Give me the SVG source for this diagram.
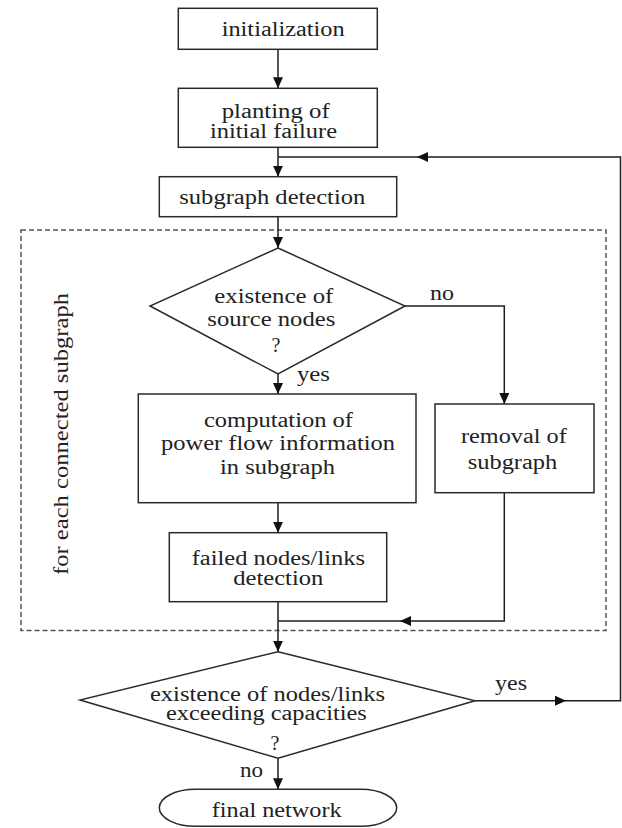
<svg xmlns="http://www.w3.org/2000/svg" width="622" height="828" viewBox="0 0 622 828" font-family="'Liberation Serif', 'Times New Roman', Times, serif">
<style>
.box{fill:#fff;stroke:#2a2a2a;stroke-width:1.5}
.ln{fill:none;stroke:#1e1e1e;stroke-width:1.5}
.dash{fill:none;stroke:#555;stroke-width:1.5;stroke-dasharray:5 3}
text{font-family:'Liberation Serif','Times New Roman',Times,serif;font-size:20px;fill:#222}
.c{text-anchor:middle}
</style>
<defs>
<marker id="ah" markerUnits="userSpaceOnUse" viewBox="0 0 11 10" refX="11" refY="5" markerWidth="11" markerHeight="10" orient="auto"><path d="M0,0 L11,5 L0,10 z" fill="#111"/></marker>
</defs>
<rect width="622" height="828" fill="#fff"/>
<g id="loop-region">
<rect class="dash" x="21" y="230" width="585" height="400.5"/>
<text transform="translate(68,575) rotate(-90)" textLength="282" lengthAdjust="spacingAndGlyphs">for each connected subgraph</text>
</g>
<g id="connectors">
<path class="ln" d="M278,49.3 V88.3" marker-end="url(#ah)"/>
<path class="ln" d="M278,147.3 V176.7" marker-end="url(#ah)"/>
<path class="ln" d="M278,216.7 V248" marker-end="url(#ah)"/>
<path class="ln" d="M405,306 H504.3 V404" marker-end="url(#ah)"/>
<path class="ln" d="M278,374 V394" marker-end="url(#ah)"/>
<path class="ln" d="M278,502.7 V532.7" marker-end="url(#ah)"/>
<path class="ln" d="M278,601.7 V651.7" marker-end="url(#ah)"/>
<path class="ln" d="M504.3,492.7 V621 H400" marker-end="url(#ah)"/>
<path class="ln" d="M400,621 H278"/>
<path class="ln" d="M475,700.7 H566" marker-end="url(#ah)"/>
<path class="ln" d="M566,700.7 H620.5 V157 H417" marker-end="url(#ah)"/>
<path class="ln" d="M417,157 H278"/>
<path class="ln" d="M278,758.3 V789.3" marker-end="url(#ah)"/>
<text x="430" y="300" textLength="24" lengthAdjust="spacingAndGlyphs">no</text>
<text x="297" y="381" textLength="33" lengthAdjust="spacingAndGlyphs">yes</text>
<text x="495" y="690" textLength="32" lengthAdjust="spacingAndGlyphs">yes</text>
<text x="240" y="777" textLength="23" lengthAdjust="spacingAndGlyphs">no</text>
</g>
<g id="n-init">
<rect class="box" x="178.3" y="8.3" width="199" height="41"/>
<text x="221.7" y="36" textLength="123" lengthAdjust="spacingAndGlyphs">initialization</text>
</g>
<g id="n-planting">
<rect class="box" x="178.3" y="88.3" width="199" height="59"/>
<text x="221.7" y="118" textLength="108" lengthAdjust="spacingAndGlyphs">planting of</text>
<text x="210" y="138" textLength="127" lengthAdjust="spacingAndGlyphs">initial failure</text>
</g>
<g id="n-subgraph">
<rect class="box" x="159.3" y="176.7" width="237.4" height="40"/>
<text x="179.3" y="204" textLength="186" lengthAdjust="spacingAndGlyphs">subgraph detection</text>
</g>
<g id="n-source">
<polygon class="box" points="278,248 405,306 278,374 150,306"/>
<text x="214.3" y="303" textLength="119" lengthAdjust="spacingAndGlyphs">existence of</text>
<text x="207.3" y="326" textLength="128" lengthAdjust="spacingAndGlyphs">source nodes</text>
<text class="c" x="276" y="352">?</text>
</g>
<g id="n-compute">
<rect class="box" x="138.3" y="394" width="277.7" height="108.7"/>
<text x="204" y="427" textLength="149" lengthAdjust="spacingAndGlyphs">computation of</text>
<text x="161" y="450" textLength="234" lengthAdjust="spacingAndGlyphs">power flow information</text>
<text x="220" y="474" textLength="115" lengthAdjust="spacingAndGlyphs">in subgraph</text>
</g>
<g id="n-removal">
<rect class="box" x="435" y="404" width="159" height="88.7"/>
<text x="461" y="443.3" textLength="105.7" lengthAdjust="spacingAndGlyphs">removal of</text>
<text x="467.7" y="469.3" textLength="89.6" lengthAdjust="spacingAndGlyphs">subgraph</text>
</g>
<g id="n-failed">
<rect class="box" x="169.3" y="532.7" width="217.4" height="69"/>
<text x="191.7" y="565" textLength="173.3" lengthAdjust="spacingAndGlyphs">failed nodes/links</text>
<text x="233.3" y="585" textLength="90" lengthAdjust="spacingAndGlyphs">detection</text>
</g>
<g id="n-exceed">
<polygon class="box" points="278,651.7 475,700.7 278,758.3 80,700"/>
<text x="150" y="701" textLength="235" lengthAdjust="spacingAndGlyphs">existence of nodes/links</text>
<text x="166" y="720" textLength="200.7" lengthAdjust="spacingAndGlyphs">exceeding capacities</text>
<text class="c" x="275" y="750">?</text>
</g>
<g id="n-final">
<rect class="box" x="159.3" y="789.3" width="237.4" height="37" rx="36" ry="18.5"/>
<text x="211.7" y="816.7" textLength="130" lengthAdjust="spacingAndGlyphs">final network</text>
</g>
</svg>
